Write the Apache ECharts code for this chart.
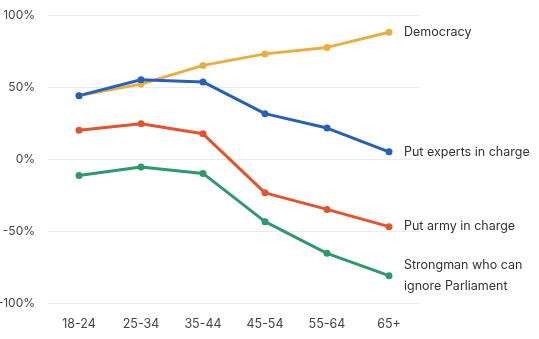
<!DOCTYPE html>
<html><head><meta charset="utf-8">
<script src="https://cdn.jsdelivr.net/npm/echarts@6/dist/echarts.min.js"></script>
<style>html,body{margin:0;padding:0;background:#fff}#c{width:539px;height:339px}</style>
</head><body><div id="c"></div>
<script>
const categories = ['18-24','25-34','35-44','45-54','55-64','65+'];
const democracy = [44, 52, 65, 73, 77.5, 88];
const experts = [44, 55, 53.5, 31.5, 21.5, 5];
const army = [20, 24.5, 17.5, -23.5, -35, -47];
const strongman = [-11.5, -5.5, -10, -43.5, -65.5, -81];
const seriesNames = ['Democracy','Put experts in charge','Put army in charge','Strongman who can\nignore Parliament'];
const colors = ['#E9AE40','#2660BD','#E4542C','#2E9A6B'];
const allData = [democracy, experts, army, strongman];
const font = 'Inter, "Noto Sans", sans-serif';

const chart = echarts.init(document.getElementById('c'));
chart.setOption({
  animation: false,
  grid: {left: 48, right: 119, top: 15, bottom: 36, containLabel: false, outerBoundsMode: 'none'},
  xAxis: {
    type: 'category', data: categories, boundaryGap: true,
    axisLine: {show: false}, axisTick: {show: false},
    axisLabel: {color: '#444', fontSize: 12.5, fontFamily: font, margin: 15}
  },
  yAxis: {
    type: 'value', min: -100, max: 100, interval: 50,
    axisLabel: {formatter: '{value}%', color: '#444', fontSize: 12, fontFamily: font, margin: 13},
    splitLine: {lineStyle: {color: '#ebebeb', width: 1}}
  },
  series: allData.map((d, i) => ({
    name: seriesNames[i], type: 'line', data: d,
    symbol: 'circle', symbolSize: 7,
    lineStyle: {width: 3, color: colors[i]},
    itemStyle: {color: colors[i]},
    endLabel: {show: true, formatter: seriesNames[i], color: '#333', fontSize: 12.5, fontFamily: font, distance: 15, lineHeight: 21}
  }))
});
</script></body></html>
